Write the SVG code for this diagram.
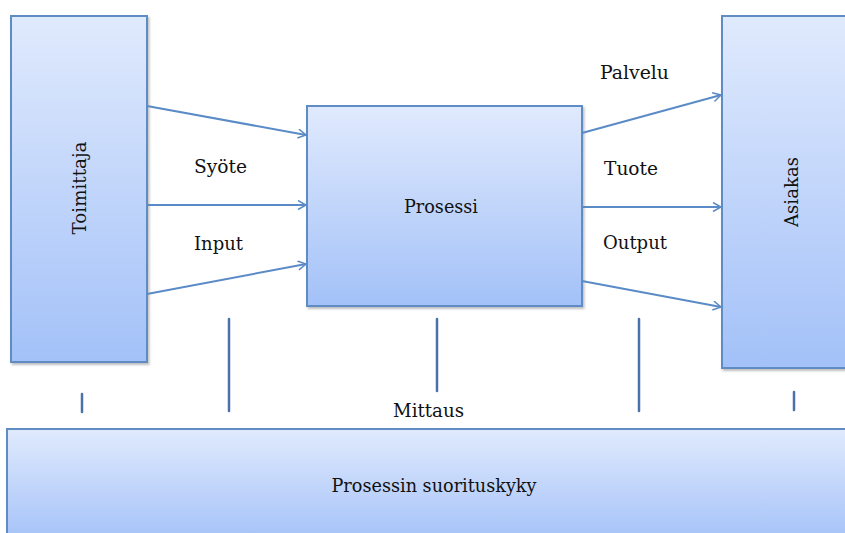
<svg xmlns="http://www.w3.org/2000/svg" width="845" height="533" viewBox="0 0 845 533">
<defs>
<linearGradient id="g" x1="0" y1="0" x2="0" y2="1">
<stop offset="0" stop-color="#e0eafd"/>
<stop offset="1" stop-color="#a3c1f8"/>
</linearGradient>
<filter id="sh" x="-10%" y="-10%" width="120%" height="120%">
<feDropShadow dx="1.5" dy="2" stdDeviation="1.2" flood-color="#000" flood-opacity="0.25"/>
</filter>
<marker id="ah" markerUnits="userSpaceOnUse" markerWidth="12" markerHeight="12" refX="9" refY="5" orient="auto">
<path d="M1,0.5 L9,5 L1,9.5" fill="none" stroke="#5b8bc6" stroke-width="1.5"/>
</marker>
</defs>
<style>
.box{fill:url(#g);stroke:#5f8cc4;stroke-width:2;filter:url(#sh)}
.t{font-family:'DejaVu Serif','Liberation Serif',serif;font-size:18px;fill:#111}
.arr{stroke:#5b8bc6;stroke-width:2;fill:none;marker-end:url(#ah)}
.m{stroke:#4a72a8;stroke-width:2.5;stroke-linecap:round;fill:none}
</style>
<g id="toimittaja">
<rect class="box" x="11" y="16" width="136" height="346"/>
<text class="t" transform="translate(86,188) rotate(-90)" text-anchor="middle" textLength="93" lengthAdjust="spacingAndGlyphs">Toimittaja</text>
</g>
<g id="prosessi">
<rect class="box" x="307" y="106" width="275" height="200"/>
<text class="t" x="441" y="213" text-anchor="middle" textLength="74" lengthAdjust="spacingAndGlyphs">Prosessi</text>
</g>
<g id="asiakas">
<rect class="box" x="722" y="16" width="130" height="352"/>
<text class="t" transform="translate(798,192) rotate(-90)" text-anchor="middle" textLength="70" lengthAdjust="spacingAndGlyphs">Asiakas</text>
</g>
<g id="suorituskyky">
<rect class="box" x="7" y="429" width="846" height="115"/>
<text class="t" x="434" y="492" text-anchor="middle" textLength="205" lengthAdjust="spacingAndGlyphs">Prosessin suorituskyky</text>
</g>
<g id="connectors">
<line class="arr" x1="147" y1="106" x2="306" y2="135"/>
<line class="arr" x1="147" y1="205" x2="306" y2="205"/>
<line class="arr" x1="147" y1="294" x2="306" y2="264"/>
<line class="arr" x1="582" y1="133" x2="721" y2="95"/>
<line class="arr" x1="582" y1="207" x2="721" y2="207"/>
<line class="arr" x1="582" y1="281" x2="721" y2="307"/>
<line class="m" x1="82" y1="394" x2="82" y2="412"/>
<line class="m" x1="229" y1="319" x2="229" y2="411"/>
<line class="m" x1="437" y1="319" x2="437" y2="391"/>
<line class="m" x1="639" y1="319" x2="639" y2="411"/>
<line class="m" x1="794" y1="392" x2="794" y2="410"/>
</g>
<g id="labels">
<text class="t" x="194" y="173" textLength="53" lengthAdjust="spacingAndGlyphs">Syöte</text>
<text class="t" x="194" y="250" textLength="49" lengthAdjust="spacingAndGlyphs">Input</text>
<text class="t" x="600" y="79" textLength="69" lengthAdjust="spacingAndGlyphs">Palvelu</text>
<text class="t" x="604" y="175" textLength="54" lengthAdjust="spacingAndGlyphs">Tuote</text>
<text class="t" x="603" y="249" textLength="64" lengthAdjust="spacingAndGlyphs">Output</text>
<text class="t" x="393" y="417" textLength="71" lengthAdjust="spacingAndGlyphs">Mittaus</text>
</g>
</svg>
